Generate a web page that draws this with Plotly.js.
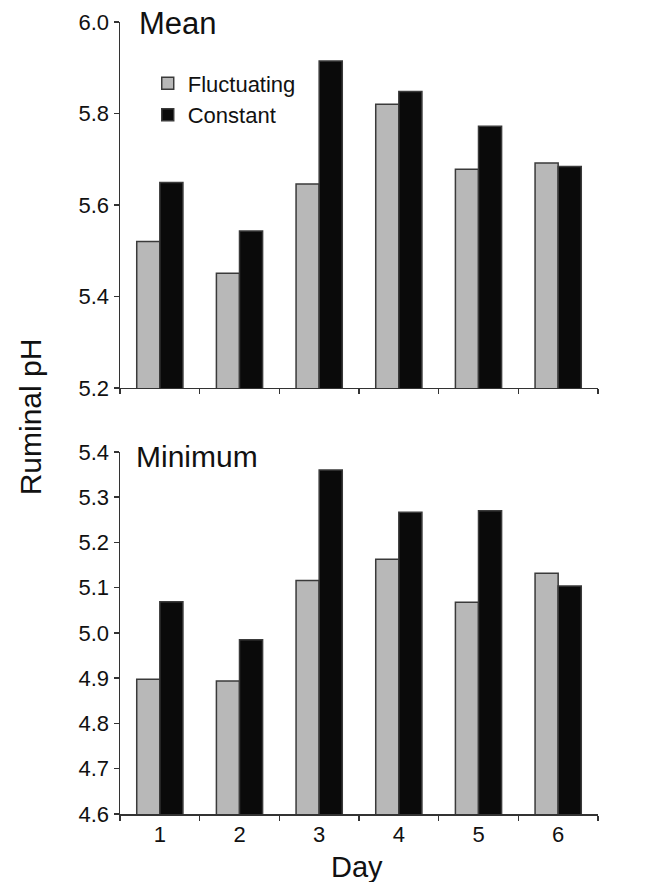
<!DOCTYPE html>
<html>
<head>
<meta charset="utf-8">
<script src="https://cdn.plot.ly/plotly-3.0.1.min.js"></script>
<style>html,body{margin:0;padding:0;background:#fff;}#chart{width:651px;height:882px;}</style>
</head>
<body>
<div id="chart"></div>
<script>
var days = ['1', '2', '3', '4', '5', '6'];
var meanFluctuating = [5.520, 5.451, 5.646, 5.820, 5.678, 5.692];
var meanConstant = [5.649, 5.543, 5.915, 5.848, 5.772, 5.684];
var minFluctuating = [4.898, 4.894, 5.116, 5.163, 5.068, 5.132];
var minConstant = [5.069, 4.985, 5.360, 5.267, 5.270, 5.104];
var seriesNames = ['Fluctuating', 'Constant'];
var meanTicks = [5.2, 5.4, 5.6, 5.8, 6.0];
var minTicks = [4.6, 4.7, 4.8, 4.9, 5.0, 5.1, 5.2, 5.3, 5.4];

var grayFill = '#b8b8b8', blackFill = '#0a0a0a', edge = '#3a3a3a';
var font = 'Liberation Sans, Arial, sans-serif';

function bar(x, y, name, color, xa, ya, show) {
  return {type: 'bar', x: x, y: y, name: name, xaxis: xa, yaxis: ya, showlegend: show,
    marker: {color: color, line: {color: edge, width: 1.5}}, hoverinfo: 'x+y+name'};
}

var data = [
  bar(days, meanFluctuating, seriesNames[0], grayFill, 'x', 'y', true),
  bar(days, meanConstant, seriesNames[1], blackFill, 'x', 'y', true),
  bar(days, minFluctuating, seriesNames[0], grayFill, 'x2', 'y2', false),
  bar(days, minConstant, seriesNames[1], blackFill, 'x2', 'y2', false)
];

var axCommon = {showline: true, linecolor: '#333', linewidth: 1.5, ticks: 'outside', ticklen: 5,
  tickcolor: '#333', tickwidth: 1.5, showgrid: false, zeroline: false,
  tickfont: {family: font, size: 22, color: '#111'}};

var layout = {
  width: 651, height: 882,
  margin: {l: 120, r: 53, t: 22, b: 68},
  paper_bgcolor: '#fff', plot_bgcolor: '#fff',
  font: {family: font, color: '#111'},
  barmode: 'group', bargap: 0.42, bargroupgap: 0,
  showlegend: true,
  legend: {x: 0.058, y: 0.949, xanchor: 'left', yanchor: 'top', bgcolor: 'rgba(0,0,0,0)',
    font: {family: font, size: 22, color: '#111'}, tracegroupgap: 0, itemwidth: 30},
  xaxis: Object.assign({}, axCommon, {type: 'category', categoryorder: 'array', categoryarray: days,
    tickson: 'boundaries', showticklabels: false, anchor: 'y', domain: [0, 1]}),
  yaxis: Object.assign({}, axCommon, {range: [5.2, 6.0], tickvals: meanTicks, tickformat: '.1f',
    domain: [0.5379, 1], anchor: 'x'}),
  xaxis2: Object.assign({}, axCommon, {type: 'category', categoryorder: 'array', categoryarray: days,
    tickson: 'boundaries', anchor: 'y2', domain: [0, 1]}),
  yaxis2: Object.assign({}, axCommon, {range: [4.6, 5.4], tickvals: minTicks, tickformat: '.1f',
    domain: [0, 0.4571], anchor: 'x2'}),
  annotations: [
    {text: 'Mean', xref: 'paper', yref: 'paper', x: 0.035, y: 0.9975, xanchor: 'left', yanchor: 'middle',
      showarrow: false, font: {family: font, size: 31, color: '#111'}},
    {text: 'Minimum', xref: 'paper', yref: 'paper', x: 0.029, y: 0.4508, xanchor: 'left', yanchor: 'middle',
      showarrow: false, font: {family: font, size: 30, color: '#111'}},
    {text: 'Ruminal pH', xref: 'paper', yref: 'paper', x: -0.188, y: 0.501, xanchor: 'center', yanchor: 'middle',
      textangle: -90, showarrow: false, font: {family: font, size: 30, color: '#111'}},
    {text: 'Day', xref: 'paper', yref: 'paper', x: 0.496, y: -0.067, xanchor: 'center', yanchor: 'middle',
      showarrow: false, font: {family: font, size: 29, color: '#111'}}
  ]
};

Plotly.newPlot('chart', data, layout, {staticPlot: true, displayModeBar: false});
</script>
</body>
</html>
